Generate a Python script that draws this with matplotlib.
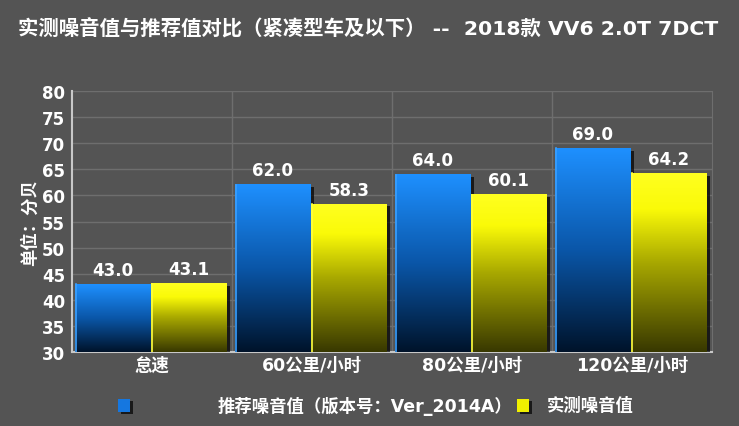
"""
实测噪音值与推荐值对比 - 柱状图（渐变色）
"""
import numpy as np
import matplotlib
matplotlib.use('Agg')
import matplotlib.pyplot as plt
from matplotlib.colors import LinearSegmentedColormap
from matplotlib.patches import Rectangle
import matplotlib.patheffects as pe

# 数据
categories = ['怠速', '60公里/小时', '80公里/小时', '120公里/小时']
recommended = [43.0, 62.0, 64.0, 69.0]
measured = [43.1, 58.3, 60.1, 64.2]
series_names = ['推荐噪音值（版本号：Ver_2014A）', '实测噪音值']
title = '实测噪音值与推荐值对比（紧凑型车及以下） --  2018款 VV6 2.0T 7DCT'
y_label = '单位：分贝'
y_ticks = list(range(30, 81, 5))

plt.rcParams['font.family'] = ['DejaVu Sans', 'Noto Sans CJK SC']
plt.rcParams['font.weight'] = 'bold'

bg = '#545454'
grid_col = '#6e6e6e'
axis_col = '#c8c8c8'

cmap_blue = LinearSegmentedColormap.from_list(
    'blue', [(0, '#00132a'), (0.5, '#0a56a8'), (1, '#1e90ff')])
cmap_yellow = LinearSegmentedColormap.from_list(
    'yellow', [(0, '#383800'), (0.5, '#a8a800'), (0.8, '#fafa08'), (1, '#ffff20')])

fig = plt.figure(figsize=(7.39, 4.27), dpi=100, facecolor=bg)
ax = fig.add_axes([72 / 739, 1 - 353 / 427, 640 / 739, 261 / 427])
ax.set_facecolor(bg)

x = np.arange(len(categories))
w = 0.47
ymin, ymax = 30, 80

bars_b = ax.bar(x - 0.245, recommended, width=w, color='#002850', zorder=3)
bars_y = ax.bar(x + 0.23, measured, width=w, color='#404000', zorder=3)

# 阴影
for b in list(bars_b) + list(bars_y):
    b.set_path_effects([pe.SimplePatchShadow(offset=(2.5, -1.5), shadow_rgbFace='black', alpha=0.7),
                        pe.Normal()])


def gradient_bar(bar, cmap, edge):
    x0 = bar.get_x()
    x1 = x0 + bar.get_width()
    y1 = bar.get_height()
    grad = np.linspace(0, 1, 256).reshape(-1, 1)
    ax.imshow(grad, extent=[x0, x1, ymin, y1], origin='lower', aspect='auto',
              cmap=cmap, zorder=4, interpolation='bilinear')
    # 左侧高光边
    ax.plot([x0 + 0.004, x0 + 0.004], [ymin, y1], color=edge, lw=1.2, zorder=5)


for b in bars_b:
    gradient_bar(b, cmap_blue, '#3aa0ff')
for b in bars_y:
    gradient_bar(b, cmap_yellow, '#ffff40')

# 数值标签
for b, v in zip(list(bars_b) + list(bars_y), recommended + measured):
    ax.annotate(f'{v:.1f}', xy=(b.get_x() + b.get_width() / 2, v), xytext=(0, 4),
                textcoords='offset points', ha='center', va='bottom',
                color='white', fontsize=12, fontweight='bold', zorder=6)

ax.set_xlim(-0.5, len(categories) - 0.5)
ax.set_ylim(ymin, ymax)
ax.set_yticks(y_ticks)
ax.set_xticks(x)
ax.set_xticklabels(categories, fontsize=12.5)
ax.tick_params(axis='both', colors='white', length=0)
ax.tick_params(axis='y', pad=5, labelsize=12)
ax.tick_params(axis='x', pad=3)

# 网格线
for yv in y_ticks[1:]:
    ax.axhline(yv, color=grid_col, lw=1, zorder=1)
for xv in x[:-1] + 0.5:
    ax.axvline(xv, color=grid_col, lw=1, zorder=1)

ax.spines['top'].set_visible(False)
ax.spines['right'].set_color(grid_col)
ax.spines['left'].set_color(axis_col)
ax.spines['bottom'].set_color(axis_col)
ax.spines['left'].set_linewidth(1.5)
ax.spines['bottom'].set_linewidth(1.5)

ax.set_ylabel(y_label, color='white', fontsize=12.5, fontweight='bold', labelpad=2)

# 标题
fig.text(18 / 739, 1 - 29 / 427, title, color='white', fontsize=14.7,
         fontweight='bold', ha='left', va='center')

# 图例
ly = 1 - 406 / 427
sq_w, sq_h = 12 / 739, 13 / 427
for (sx, tx), name, col in zip([(118, 218), (517, 547)], series_names, ['#1577e0', '#f0f000']):
    fig.patches.append(Rectangle((sx / 739 + 0.004, ly - sq_h / 2 - 0.005), sq_w, sq_h,
                                 transform=fig.transFigure, facecolor='black', alpha=0.7))
    fig.patches.append(Rectangle((sx / 739, ly - sq_h / 2), sq_w, sq_h,
                                 transform=fig.transFigure, facecolor=col, edgecolor='none'))
    fig.text(tx / 739, ly, name, color='white', fontsize=12.5, fontweight='bold',
             ha='left', va='center')

fig.savefig('out.png', dpi=100, facecolor=bg)
